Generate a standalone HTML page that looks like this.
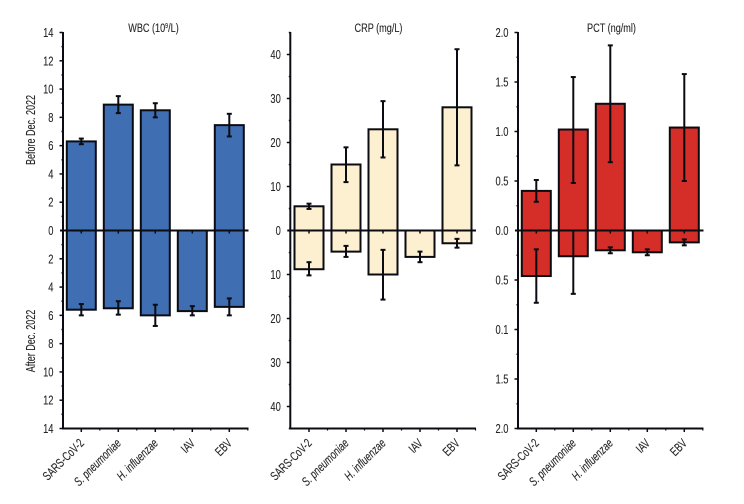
<!DOCTYPE html>
<html lang="en">
<head>
<meta charset="utf-8">
<title>WBC, CRP and PCT before and after Dec. 2022</title>
<style>
  html, body { margin: 0; padding: 0; background: #fff; }
  svg { display: block; }
  text { font-family: "Liberation Sans", sans-serif; fill: #262626; stroke: #262626; stroke-width: 0.12px; }
</style>
</head>
<body>
<svg id="chart" width="744" height="504" viewBox="0 0 744 504" xmlns="http://www.w3.org/2000/svg">
  <text font-size="12.5" text-anchor="middle" transform="translate(35,130) rotate(-90) scale(0.72,1)">Before Dec. 2022</text>
  <text font-size="12.5" text-anchor="middle" transform="translate(35,341) rotate(-90) scale(0.72,1)">After Dec. 2022</text>
  <text font-size="12" text-anchor="middle" transform="translate(153.5,32) scale(0.76,1)">WBC (10<tspan font-size="7" dy="-4">9</tspan><tspan dy="4">/L)</tspan></text>
  <text font-size="12" text-anchor="middle" transform="translate(378.5,32) scale(0.76,1)">CRP (mg/L)</text>
  <text font-size="12" text-anchor="middle" transform="translate(611.5,32) scale(0.76,1)">PCT (ng/ml)</text>
</svg>
<script>
const categories = ['SARS-CoV-2', 'S. pneumoniae', 'H. influenzae', 'IAV', 'EBV'];

const wbcBefore = [6.3, 8.9, 8.5, 0, 7.45];
const wbcBeforeLow = [6.1, 8.3, 8.0, 0, 6.65];
const wbcBeforeHigh = [6.5, 9.5, 9.0, 0, 8.25];
const wbcAfter = [5.6, 5.5, 6.0, 5.7, 5.4];
const wbcAfterLow = [5.2, 5.0, 5.25, 5.35, 4.8];
const wbcAfterHigh = [6.0, 5.95, 6.75, 6.0, 6.0];
const wbcTicksUp = ['0', '2', '4', '6', '8', '10', '12', '14'];
const wbcTicksDown = ['0', '2', '4', '6', '8', '10', '12', '14'];

const crpBefore = [5.5, 15, 23, 0, 28];
const crpBeforeLow = [4.9, 11, 16.6, 0, 14.8];
const crpBeforeHigh = [6.1, 18.9, 29.4, 0, 41.2];
const crpAfter = [8.8, 4.8, 10, 6, 2.9];
const crpAfterLow = [7.2, 3.5, 4.4, 4.8, 1.9];
const crpAfterHigh = [10.2, 6, 15.7, 7.2, 3.9];
const crpTicksUp = ['0', '10', '20', '30', '40'];
const crpTicksDown = ['0', '10', '20', '30', '40'];

const pctBefore = [0.4, 1.02, 1.28, 0, 1.04];
const pctBeforeLow = [0.29, 0.48, 0.69, 0, 0.5];
const pctBeforeHigh = [0.51, 1.55, 1.87, 0, 1.58];
const pctAfter = [0.46, 0.26, 0.2, 0.22, 0.12];
const pctAfterLow = [0.19, 0, 0.17, 0.19, 0.09];
const pctAfterHigh = [0.73, 0.64, 0.23, 0.25, 0.15];
const pctTicksUp = ['0.0', '0.5', '1.0', '1.5', '2.0'];
const pctTicksDown = ['0.0', '0.5', '0.1', '1.5', '2.0'];

const svg = document.getElementById('chart');
const NS = 'http://www.w3.org/2000/svg';
const INK = '#0b0b12';

function mk(tag, attrs, parent) {
  const el = document.createElementNS(NS, tag);
  for (const k in attrs) el.setAttribute(k, attrs[k]);
  parent.appendChild(el);
  return el;
}

function line(x1, y1, x2, y2, w, parent) {
  return mk('line', { x1: x1, y1: y1, x2: x2, y2: y2, stroke: INK, 'stroke-width': w }, parent);
}

function drawPanel(p) {
  const zeroY = 230.5, half = 198;
  const yUp = v => zeroY - v / p.max * half;
  const yDown = v => zeroY + v / p.max * half;
  const xCat = i => p.first + i * p.step;
  const g = mk('g', {}, svg);
  
  

  categories.forEach((c, i) => {
    const x = xCat(i);
    if (p.before[i] > 0) {
      const r = mk('rect', { x: x - 14.5, y: yUp(p.before[i]), width: 29, height: yUp(0) - yUp(p.before[i]), fill: p.color, stroke: INK, 'stroke-width': 2 }, g);
      
      
    }
    const d = mk('rect', { x: x - 14.5, y: yDown(0), width: 29, height: yDown(p.after[i]) - yDown(0), fill: p.color, stroke: INK, 'stroke-width': 2 }, g);
    
    
  });

  categories.forEach((c, i) => {
    const x = xCat(i);
    if (p.before[i] > 0) {
      const e = mk('g', {}, g);
      
      
      line(x, yUp(p.beforeLow[i]), x, yUp(p.beforeHigh[i]), 2, e);
      line(x - 2.5, yUp(p.beforeLow[i]), x + 2.5, yUp(p.beforeLow[i]), 2, e);
      line(x - 2.5, yUp(p.beforeHigh[i]), x + 2.5, yUp(p.beforeHigh[i]), 2, e);
    }
    const e2 = mk('g', {}, g);
    
    
    line(x, yDown(p.afterLow[i]), x, yDown(p.afterHigh[i]), 2, e2);
    if (p.afterLow[i] > 0) line(x - 2.5, yDown(p.afterLow[i]), x + 2.5, yDown(p.afterLow[i]), 2, e2);
    line(x - 2.5, yDown(p.afterHigh[i]), x + 2.5, yDown(p.afterHigh[i]), 2, e2);
  });

  const yAxis = line(p.axis, zeroY - half - 0.5, p.axis, zeroY + half + 1, 2, g);
  
  
  const xAxis = line(p.axis - 1, zeroY + half, p.right, zeroY + half, 2, g);
  
  
  const zero = line(p.axis - 3, zeroY, p.right, zeroY, 2, g);
  
  

  const minor = p.major / 2;
  for (let k = 1; k * minor <= p.max + 1e-9; k++) {
    const v = k * minor;
    const isMajor = k % 2 === 0;
    const len = isMajor ? 3.5 : 1.5;
    line(p.axis - len, yUp(v), p.axis, yUp(v), 1.5, g);
    line(p.axis - len, yDown(v), p.axis, yDown(v), 1.5, g);
  }

  function label(list, yFn, side) {
    list.forEach((t, i) => {
      if (side === 'down' && i === 0) return;
      const tx = mk('text', { 'font-size': 13, 'text-anchor': 'end', transform: 'translate(' + (p.axis - 9.5) + ',' + (yFn(i * p.major) + 4.5) + ') scale(0.72,1)' }, g);
      
      
      tx.textContent = t;
    });
  }
  label(p.ticksUp, yUp, 'up');
  label(p.ticksDown, yDown, 'down');

  categories.forEach((c, i) => {
    const x = xCat(i);
    line(x, zeroY + half, x, zeroY + half + 3.5, 1.5, g);
    line(x, zeroY, x, zeroY + 3, 1.5, g);
    line(x + p.step / 2, zeroY + half, x + p.step / 2, zeroY + half + 2, 1.2, g);
    const tx = mk('text', { 'font-size': 12.5, 'text-anchor': 'end', transform: 'translate(' + (x + 3.5) + ',' + 444 + ') rotate(-45) scale(0.72,1)' }, g);
    
    
    if (c.indexOf('. ') > 0) tx.setAttribute('font-style', 'italic');
    tx.textContent = c;
  });
}

drawPanel({ name: 'wbc', color: '#3f6fb2', max: 14, major: 2, axis: 63, right: 248.5, first: 81.3, step: 37,
  before: wbcBefore, beforeLow: wbcBeforeLow, beforeHigh: wbcBeforeHigh,
  after: wbcAfter, afterLow: wbcAfterLow, afterHigh: wbcAfterHigh,
  ticksUp: wbcTicksUp, ticksDown: wbcTicksDown });

drawPanel({ name: 'crp', color: '#fdf0d0', max: 45, major: 10, axis: 290.3, right: 476, first: 309, step: 37,
  before: crpBefore, beforeLow: crpBeforeLow, beforeHigh: crpBeforeHigh,
  after: crpAfter, afterLow: crpAfterLow, afterHigh: crpAfterHigh,
  ticksUp: crpTicksUp, ticksDown: crpTicksDown });

drawPanel({ name: 'pct', color: '#d52d27', max: 2, major: 0.5, axis: 518, right: 703.5, first: 536.3, step: 37,
  before: pctBefore, beforeLow: pctBeforeLow, beforeHigh: pctBeforeHigh,
  after: pctAfter, afterLow: pctAfterLow, afterHigh: pctAfterHigh,
  ticksUp: pctTicksUp, ticksDown: pctTicksDown });
</script>
</body>
</html>
